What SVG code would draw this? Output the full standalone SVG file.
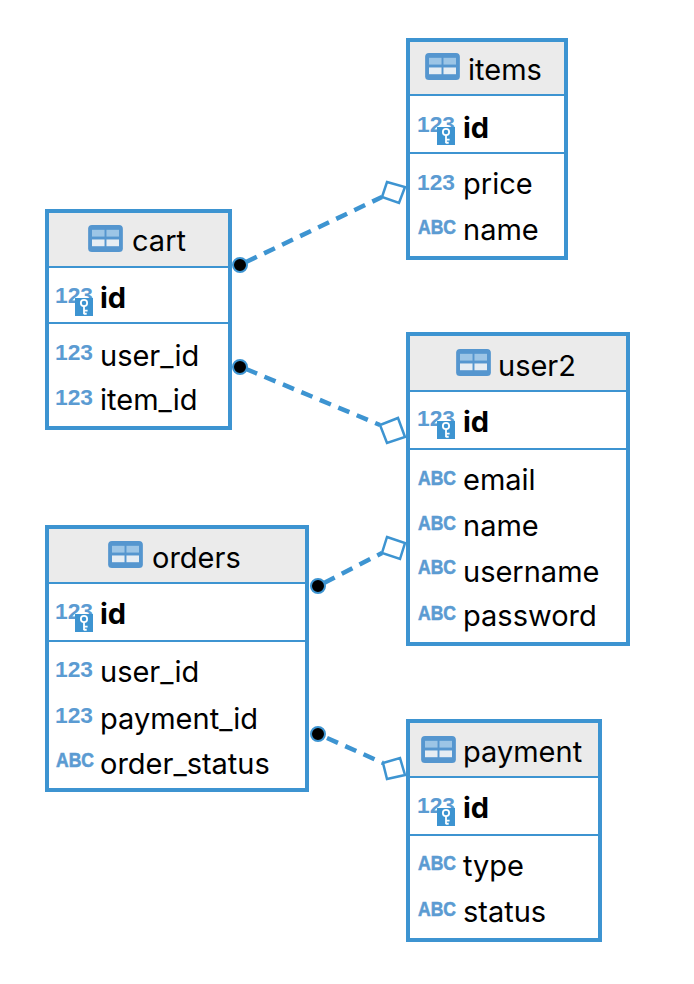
<svg xmlns="http://www.w3.org/2000/svg" width="694" height="984" viewBox="0 0 694 984">
<style>
.box{fill:#fff;stroke:#3d94d1;stroke-width:4}
.head{fill:#ebebeb}
.sep{stroke:#3d94d1;stroke-width:2;fill:none}
.t{font-family:Inter,"Liberation Sans",Arial,sans-serif;font-size:29px;fill:#000}
.b{font-weight:700}
.ty{font-family:"Liberation Sans",Arial,sans-serif;font-size:22px;font-weight:700;fill:#5b9bd2}
.abc{font-size:20px;stroke:#5b9bd2;stroke-width:.6}
.link{stroke:#3d94d1;stroke-width:4.500;stroke-dasharray:12 8;fill:none}
.dia{fill:#fff;stroke:#3d94d1;stroke-width:2.500}
.dot{fill:#000;stroke:#3d94d1;stroke-width:2}
</style>
<defs>
<symbol id="tbl" viewBox="0 0 36 28" overflow="visible">
<rect width="36" height="28" rx="4" fill="#5596cf"/>
<rect x="4" y="5" width="13" height="7" fill="#9cc5e6"/><rect x="19" y="5" width="13" height="7" fill="#9cc5e6"/>
<rect x="4" y="15" width="13" height="7" fill="#e6edf3"/><rect x="19" y="15" width="13" height="7" fill="#e6edf3"/>
</symbol>
<symbol id="key" viewBox="0 0 20 20" overflow="visible">
<rect width="20" height="20" fill="#3d94d1"/>
<circle cx="10" cy="5.500" r="3.500" fill="none" stroke="#fff" stroke-width="2"/>
<path d="M10 9V18M10 14H14M10 17.500H13" stroke="#fff" stroke-width="2" fill="none"/>
</symbol>
</defs>
<g id="connectors">
<path class="link" d="M246 262L382 197"/>
<path class="link" d="M246 369L380 425"/>
<path class="link" d="M324 583L382 553"/>
<path class="link" d="M327 738L383 763"/>
<path class="dia" d="M387 182L405 187L399 203L382 197Z"/>
<path class="dia" d="M398 418L405 437L387 443L380 425Z"/>
<path class="dia" d="M387 537L405 543L400 559L382 553Z"/>
<path class="dia" d="M383 763L400 758L405 775L387 779Z"/>
<circle class="dot" cx="240" cy="265" r="7"/>
<circle class="dot" cx="240" cy="367" r="7"/>
<circle class="dot" cx="318" cy="586" r="7"/>
<circle class="dot" cx="318" cy="734" r="7"/>
</g>
<g id="items">
<rect class="box" x="408" y="40" width="158" height="218"/>
<rect class="head" x="410" y="42" width="154" height="52"/>
<path class="sep" d="M410 95H564M410 153H564"/>
<use href="#tbl" x="425" y="53" width="35" height="27"/>
<text class="t" x="468" y="80">items</text>
<text class="ty" x="417" y="132" textLength="38" lengthAdjust="spacingAndGlyphs">123</text><use href="#key" x="437" y="127" width="18" height="18"/>
<text class="t b" x="463" y="138">id</text>
<text class="ty" x="417" y="190" textLength="38" lengthAdjust="spacingAndGlyphs">123</text><text class="t" x="463" y="194">price</text>
<text class="ty abc" x="418" y="234" textLength="38" lengthAdjust="spacingAndGlyphs">ABC</text><text class="t" x="463" y="240">name</text>
</g>
<g id="cart">
<rect class="box" x="47" y="211" width="183" height="217"/>
<rect class="head" x="49" y="213" width="179" height="53"/>
<path class="sep" d="M49 267H228M49 323H228"/>
<use href="#tbl" x="88" y="225" width="35" height="27"/>
<text class="t" x="132" y="251">cart</text>
<text class="ty" x="55" y="303" textLength="38" lengthAdjust="spacingAndGlyphs">123</text><use href="#key" x="75" y="298" width="18" height="18"/>
<text class="t b" x="100" y="308">id</text>
<text class="ty" x="55" y="360" textLength="38" lengthAdjust="spacingAndGlyphs">123</text><text class="t" x="100" y="366">user_id</text>
<text class="ty" x="55" y="405" textLength="38" lengthAdjust="spacingAndGlyphs">123</text><text class="t" x="100" y="410">item_id</text>
</g>
<g id="user2">
<rect class="box" x="408" y="334" width="220" height="310"/>
<rect class="head" x="410" y="336" width="216" height="54"/>
<path class="sep" d="M410 391H626M410 449H626"/>
<use href="#tbl" x="456" y="349" width="35" height="27"/>
<text class="t" x="498" y="376">user2</text>
<text class="ty" x="417" y="426" textLength="38" lengthAdjust="spacingAndGlyphs">123</text><use href="#key" x="437" y="421" width="18" height="18"/>
<text class="t b" x="463" y="432">id</text>
<text class="ty abc" x="418" y="485" textLength="38" lengthAdjust="spacingAndGlyphs">ABC</text><text class="t" x="463" y="490">email</text>
<text class="ty abc" x="418" y="530" textLength="38" lengthAdjust="spacingAndGlyphs">ABC</text><text class="t" x="463" y="536">name</text>
<text class="ty abc" x="418" y="574" textLength="38" lengthAdjust="spacingAndGlyphs">ABC</text><text class="t" x="463" y="582">username</text>
<text class="ty abc" x="418" y="620" textLength="38" lengthAdjust="spacingAndGlyphs">ABC</text><text class="t" x="463" y="626">password</text>
</g>
<g id="orders">
<rect class="box" x="47" y="527" width="260" height="263"/>
<rect class="head" x="49" y="529" width="256" height="53"/>
<path class="sep" d="M49 583H305M49 641H305"/>
<use href="#tbl" x="108" y="541" width="35" height="27"/>
<text class="t" x="152" y="568">orders</text>
<text class="ty" x="55" y="619" textLength="38" lengthAdjust="spacingAndGlyphs">123</text><use href="#key" x="75" y="614" width="18" height="18"/>
<text class="t b" x="100" y="624">id</text>
<text class="ty" x="55" y="677" textLength="38" lengthAdjust="spacingAndGlyphs">123</text><text class="t" x="100" y="682">user_id</text>
<text class="ty" x="55" y="723" textLength="38" lengthAdjust="spacingAndGlyphs">123</text><text class="t" x="100" y="729">payment_id</text>
<text class="ty abc" x="56" y="767" textLength="38" lengthAdjust="spacingAndGlyphs">ABC</text><text class="t" x="100" y="774">order_status</text>
</g>
<g id="payment">
<rect class="box" x="408" y="721" width="192" height="219"/>
<rect class="head" x="410" y="723" width="188" height="53"/>
<path class="sep" d="M410 777H598M410 835H598"/>
<use href="#tbl" x="421" y="736" width="35" height="27"/>
<text class="t" x="463" y="762">payment</text>
<text class="ty" x="417" y="813" textLength="38" lengthAdjust="spacingAndGlyphs">123</text><use href="#key" x="437" y="808" width="18" height="18"/>
<text class="t b" x="463" y="818">id</text>
<text class="ty abc" x="418" y="870" textLength="38" lengthAdjust="spacingAndGlyphs">ABC</text><text class="t" x="463" y="876">type</text>
<text class="ty abc" x="418" y="916" textLength="38" lengthAdjust="spacingAndGlyphs">ABC</text><text class="t" x="463" y="922">status</text>
</g>
</svg>
